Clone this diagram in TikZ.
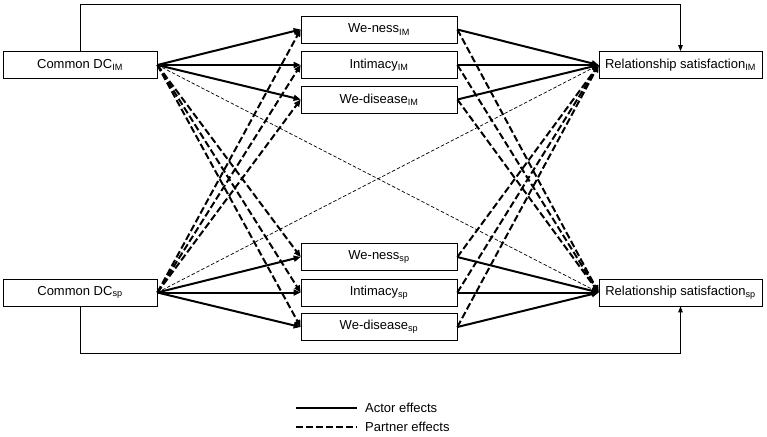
\documentclass[tikz,border=0pt]{standalone}
\usepackage{fontspec}
\setmainfont{Liberation Sans}
\usetikzlibrary{arrows.meta}

\begin{document}
\begin{tikzpicture}[x=1pt,y=-1pt,
    box/.style={draw,line width=0.7pt,minimum height=27pt,inner sep=0pt,font=\fontsize{13}{15}\selectfont},
    actor/.style={line width=2pt,-{Triangle[length=7pt,width=6pt]}},
    partner/.style={line width=2pt,dash pattern=on 7pt off 3pt,-{Triangle[length=7pt,width=6pt]}},
    crosspath/.style={line width=0.7pt,dash pattern=on 3.5pt off 2pt,-{Triangle[length=5pt,width=4pt]}},
    direct/.style={line width=0.8pt,-{Triangle[length=6pt,width=4.5pt]}}]
    % Rahmen
    \useasboundingbox (0,0) rectangle (767,436);

    % Praediktoren links
    \node[box,minimum width=154pt] (dcIM) at (80,65) {Common DC\textsubscript{IM}};
    \node[box,minimum width=154pt] (dcSP) at (80,292.5) {Common DC\textsubscript{sp}};

    % Mediatoren in der Mitte
    \foreach \n/\t/\y in {wn/We-ness/29.5, in/Intimacy/65, wd/We-disease/99.5}{
        \node[box,minimum width=156pt] (\n IM) at (379,\y) {\t\textsubscript{IM}};
    }
    \foreach \n/\t/\y in {wn/We-ness/257, in/Intimacy/292.5, wd/We-disease/327}{
        \node[box,minimum width=156pt] (\n SP) at (379,\y) {\t\textsubscript{sp}};
    }

    % Ergebnisse rechts
    \node[box,minimum width=163pt] (rsIM) at (680.5,65) {Relationship satisfaction\textsubscript{IM}};
    \node[box,minimum width=163pt] (rsSP) at (680.5,292.5) {Relationship satisfaction\textsubscript{sp}};

    % direkte Pfade
    \draw[direct] (dcIM.north) -- ++(0,-46.5) -| (rsIM.north);
    \draw[direct] (dcSP.south) -- ++(0,47) -| (rsSP.south);
    \draw[crosspath] (dcIM.east) -- (rsSP.west);
    \draw[crosspath] (dcSP.east) -- (rsIM.west);

    % Actor- und Partnereffekte
    \foreach \n in {wn,in,wd}{
        \draw[actor] (dcIM.east) -- (\n IM.west);
        \draw[actor] (dcSP.east) -- (\n SP.west);
        \draw[partner] (dcIM.east) -- (\n SP.west);
        \draw[partner] (dcSP.east) -- (\n IM.west);
        \draw[actor] (\n IM.east) -- (rsIM.west);
        \draw[actor] (\n SP.east) -- (rsSP.west);
        \draw[partner] (\n IM.east) -- (rsSP.west);
        \draw[partner] (\n SP.east) -- (rsIM.west);
    }

    % Legende
    \node[anchor=west,font=\fontsize{13}{15}\selectfont,inner sep=0pt] (actorlbl) at (365,408) {Actor effects};
    \node[anchor=west,font=\fontsize{13}{15}\selectfont,inner sep=0pt] (partnerlbl) at (365,427) {Partner effects};
    \coordinate (actorstart) at (296,408);
    \coordinate (partnerstart) at (296,427);
    \draw[line width=1.5pt] (actorstart) -- ([xshift=-8pt]actorlbl.west);
    \draw[line width=1.5pt,dash pattern=on 7pt off 3pt] (partnerstart) -- ([xshift=-8pt]partnerlbl.west);
\end{tikzpicture}
\end{document}
